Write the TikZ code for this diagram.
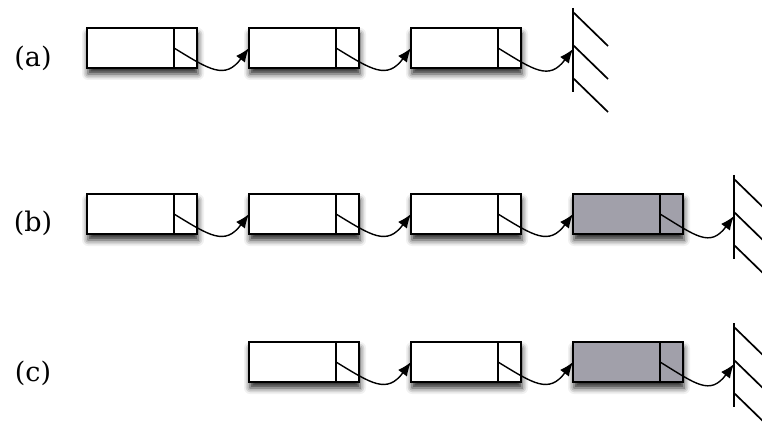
\documentclass[tikz,border=0pt]{standalone}
\usepackage{fontspec}
\setmainfont{DejaVu Serif}
\usetikzlibrary{arrows.meta,shadows.blur}
\definecolor{cellgray}{RGB}{161,160,170}
\begin{document}
\begin{tikzpicture}[x=1pt,y=-1pt,
  record/.style={draw=black, line width=1.4pt, fill=white,
    minimum width=110pt, minimum height=40pt, inner sep=0pt, outer sep=0pt,
    blur shadow={shadow xshift=1pt, shadow yshift=-6pt,
      shadow blur radius=6pt, shadow opacity=85}},
  filled/.style={record, fill=cellgray},
  divider/.style={line width=1.4pt},
  link/.style={line width=1.4pt, -{Latex[length=14pt,width=11pt]}},
  wall/.style={line width=1.7pt},
  tag/.style={font=\fontsize{27}{32}\selectfont, inner sep=0pt}]
\useasboundingbox (0,0) rectangle (762,422);

% row labels
\node[tag] (la) at (33,58) {(a)};
\node[tag] (lb) at (33,223) {(b)};
\node[tag] (lc) at (33,373) {(c)};

% records: box plus pointer cell
\node[record] (a1) at (142,48) {};
\node[record] (a2) at (304,48) {};
\node[record] (a3) at (466,48) {};

\node[record] (b1) at (142,214) {};
\node[record] (b2) at (304,214) {};
\node[record] (b3) at (466,214) {};
\node[filled] (b4) at (628,214) {};

\node[record] (c1) at (304,362) {};
\node[record] (c2) at (466,362) {};
\node[filled] (c3) at (628,362) {};

% pointer cells
\foreach \r in {a1,a2,a3,b1,b2,b3,b4,c1,c2,c3}{
  \coordinate (\r p) at ([xshift=-23pt]\r.east);
  \draw[divider] (\r p |- \r.north) -- (\r p |- \r.south);
}

% null terminators (ground symbols)
\coordinate (ga) at (573,49);
\coordinate (gb) at (734,216);
\coordinate (gc) at (734,364);
\foreach \g in {ga,gb,gc}{
  \draw[wall] (\g) ++(0,-41) -- ++(0,84);
  \foreach \d in {-37,-4,29}
    \draw[wall] (\g) ++(0,\d) -- ++(35,34);
}

% links
\foreach \s/\t in {a1/a2,a2/a3,b1/b2,b2/b3,b3/b4,c1/c2,c2/c3}
  \draw[link] (\s p) .. controls +(36,22) and +(-24,32) .. (\t.west);
\foreach \s/\t in {a3/ga,b4/gb,c3/gc}
  \draw[link] (\s p) .. controls +(36,22) and +(-24,32) .. (\t);
\end{tikzpicture}
\end{document}
